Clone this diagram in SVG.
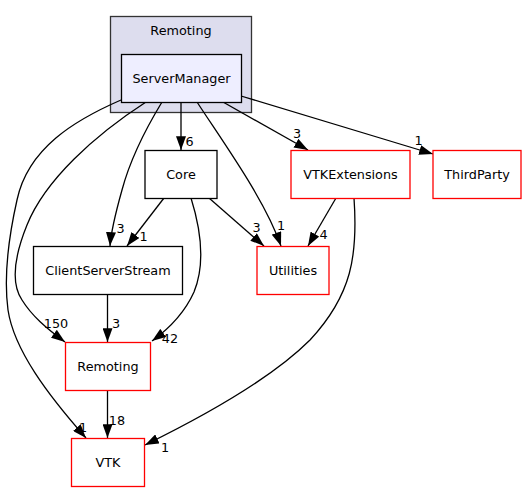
<svg xmlns="http://www.w3.org/2000/svg" width="526" height="492" viewBox="0 0 526 492">
<style>
text { font-family: "DejaVu Sans", sans-serif; font-size: 12.8px; fill: #000; }
.n text { text-anchor: middle; }
.box { fill: #ffffff; stroke: #000000; stroke-width: 1.3; }
.red { fill: #ffffff; stroke: #ff0000; stroke-width: 1.3; }
.e path { fill: none; stroke: #000000; stroke-width: 1.3; marker-end: url(#arr); }
.lbl text { text-anchor: middle; }
</style>
<defs>
<marker id="arr" markerUnits="userSpaceOnUse" markerWidth="14" markerHeight="10" viewBox="0 0 13 9.4" refX="13" refY="4.7" orient="auto">
<path d="M0,0 L13,4.7 L0,9.4 Z" fill="#000" stroke="none"/>
</marker>
</defs>
<rect width="526" height="492" fill="#ffffff"/>
<g id="cluster_remoting">
<rect x="110.5" y="16.5" width="141" height="96" fill="#ddddee" stroke="#333333" stroke-width="1.3"/>
<text x="181" y="34.5" text-anchor="middle">Remoting</text>
</g>
<g id="connectors" class="e">
<path d="M181,102 L181,150"/>
<path d="M162,102 C145,130 130,160 122,190 C115,215 111,232 110,246"/>
<path d="M146,102 C95,135 45,180 27,225 C12,262 12,285 22,300 C32,316 46,328 65,342"/>
<path d="M121,100 C75,120 28,148 17,200 C8,240 4,280 8,310 C14,350 48,395 86,438"/>
<path d="M197,102 C225,145 265,200 281,246"/>
<path d="M223,102 L308,150"/>
<path d="M241,96 L433,154"/>
<path d="M164,198 L127,246"/>
<path d="M191,198 C201,230 205,265 194,292 C185,312 170,328 152,341"/>
<path d="M209,198 L264,246"/>
<path d="M336,198 L308,246"/>
<path d="M354,198 C358,255 352,295 310,340 C270,380 200,418 145,445"/>
<path d="M107.5,294 L107.5,342"/>
<path d="M107.5,390 L107.5,438"/>
</g>
<g class="lbl">
<text x="189.5" y="145.5">6</text>
<text x="120.5" y="233">3</text>
<text x="143.5" y="241">1</text>
<text x="256.5" y="232">3</text>
<text x="281" y="230">1</text>
<text x="323.5" y="239">4</text>
<text x="297" y="138">3</text>
<text x="418.5" y="145">1</text>
<text x="56" y="328">150</text>
<text x="116" y="328">3</text>
<text x="170" y="343">42</text>
<text x="83" y="432">1</text>
<text x="117" y="425">18</text>
<text x="165" y="452">1</text>
</g>
<g id="ServerManager" class="n">
<rect x="121.5" y="54.5" width="120" height="48" fill="#eeeeff" stroke="#000000" stroke-width="1.3"/>
<text x="181.5" y="82.5">ServerManager</text>
</g>
<g id="Core" class="n">
<rect class="box" x="145" y="150.5" width="72" height="48"/>
<text x="181" y="178.5">Core</text>
</g>
<g id="ClientServerStream" class="n">
<rect class="box" x="33.5" y="246.5" width="149" height="48"/>
<text x="108" y="274.5">ClientServerStream</text>
</g>
<g id="Remoting" class="n">
<rect class="red" x="65.5" y="342.5" width="85" height="48"/>
<text x="108" y="370.5">Remoting</text>
</g>
<g id="VTK" class="n">
<rect class="red" x="71.5" y="438.5" width="73" height="48"/>
<text x="108" y="466.5">VTK</text>
</g>
<g id="Utilities" class="n">
<rect class="red" x="257" y="246.5" width="72" height="48"/>
<text x="293" y="274.5">Utilities</text>
</g>
<g id="VTKExtensions" class="n">
<rect class="red" x="291" y="150.5" width="119" height="48"/>
<text x="350.5" y="178.5">VTKExtensions</text>
</g>
<g id="ThirdParty" class="n">
<rect class="red" x="433" y="150.5" width="88" height="48"/>
<text x="477" y="178.5">ThirdParty</text>
</g>
</svg>
